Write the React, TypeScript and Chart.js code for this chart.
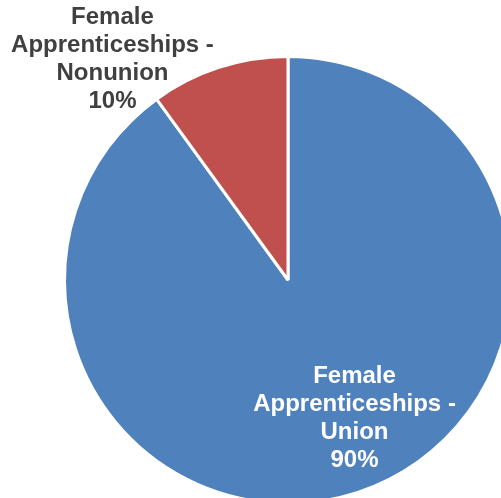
import React, { useEffect, useRef } from "react";
import { Chart, registerables } from "chart.js";

Chart.register(...registerables);

const categories = ["Female Apprenticeships - Union", "Female Apprenticeships - Nonunion"];
const values = [90, 10];
const labelLines = [
  ["Female", "Apprenticeships -", "Union", "90%"],
  ["Female", "Apprenticeships -", "Nonunion", "10%"],
];
const colors = ["#4F81BD", "#C0504D"];
const labelColors = ["#FFFFFF", "#404040"];
const labelOffsets = [
  [32, 32],
  [-141, -114],
];

const labelPlugin = {
  id: "pieLabels",
  afterDatasetsDraw(chart: any) {
    const ctx = chart.ctx;
    const meta = chart.getDatasetMeta(0);
    ctx.save();
    ctx.font = "bold 24px 'Liberation Sans', Arial, sans-serif";
    ctx.textAlign = "center";
    ctx.textBaseline = "middle";
    const lh = 28;
    meta.data.forEach((arc: any, i: number) => {
      const p = arc.tooltipPosition(false);
      const lines = labelLines[i];
      const cx = p.x + labelOffsets[i][0];
      const cy = p.y + labelOffsets[i][1];
      ctx.fillStyle = labelColors[i];
      lines.forEach((line, j) => {
        ctx.fillText(line, cx, cy + (j - (lines.length - 1) / 2) * lh);
      });
    });
    ctx.restore();
  },
};

export default function App() {
  const ref = useRef<HTMLCanvasElement | null>(null);
  useEffect(() => {
    if (!ref.current) return;
    const chart = new Chart(ref.current, {
      type: "pie",
      data: {
        labels: categories,
        datasets: [
          {
            data: values,
            backgroundColor: colors,
            borderColor: "#FFFFFF",
            borderWidth: 3,
          },
        ],
      },
      options: {
        responsive: false,
        animation: false,
        layout: { padding: { left: 63, top: 55, right: 87, bottom: 55 } },
        plugins: {
          legend: { display: false },
          tooltip: { enabled: false },
        },
      },
      plugins: [labelPlugin],
    });
    return () => chart.destroy();
  }, []);
  return (
    <div
      style={{
        position: "fixed",
        left: 0,
        top: 0,
        width: 501,
        height: 498,
        overflow: "hidden",
        background: "#FFFFFF",
      }}
    >
      <canvas ref={ref} width={600} height={560} style={{ display: "block" }} />
    </div>
  );
}
